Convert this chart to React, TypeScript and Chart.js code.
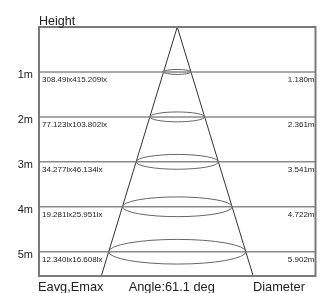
import React, { useEffect, useRef } from "react";
import { Chart, registerables } from "chart.js";

Chart.register(...registerables);

const heights = [1, 2, 3, 4, 5];
const heightLabels = ["1m", "2m", "3m", "4m", "5m"];
const eavgLabels = ["308.49", "77.123", "34.277", "19.281", "12.340"];
const emaxLabels = ["415.209", "103.802", "46.134", "25.951", "16.608"];
const diameters = [1.18, 2.361, 3.541, 4.722, 5.902];
const diameterLabels = ["1.180m", "2.361m", "3.541m", "4.722m", "5.902m"];
const beamAngle = "61.1";
const yMax = 5.54;
const xHalf = 5.95;

const FONT = "'Liberation Sans', Arial, sans-serif";

const overlay = {
  id: "overlay",
  afterDatasetsDraw(chart: any) {
    const { ctx, chartArea, scales } = chart;
    const xs = scales.x;
    const ys = scales.y;
    ctx.save();
    // ellipses
    ctx.strokeStyle = "#666";
    ctx.lineWidth = 1;
    heights.forEach((h, i) => {
      const cx = xs.getPixelForValue(0);
      const cy = ys.getPixelForValue(h);
      const rx = xs.getPixelForValue(diameters[i] / 2) - cx;
      const ry = rx * 0.18;
      ctx.beginPath();
      ctx.ellipse(cx, cy, rx, ry, 0, 0, Math.PI * 2);
      ctx.stroke();
    });
    // box
    ctx.strokeStyle = "#7a7a7a";
    ctx.lineWidth = 2;
    ctx.strokeRect(chartArea.left, chartArea.top, chartArea.right - chartArea.left, chartArea.bottom - chartArea.top);
    // texts
    ctx.fillStyle = "#222";
    ctx.textBaseline = "middle";
    heights.forEach((h, i) => {
      const y = ys.getPixelForValue(h);
      ctx.font = `11px ${FONT}`;
      ctx.textAlign = "right";
      ctx.fillText(heightLabels[i], chartArea.left - 6, y + 3);
      ctx.font = `8px ${FONT}`;
      ctx.textAlign = "left";
      ctx.fillText(`${eavgLabels[i]}lx${emaxLabels[i]}lx`, chartArea.left + 3, y + 8);
      ctx.textAlign = "right";
      ctx.fillText(diameterLabels[i], chartArea.right - 1, y + 8);
    });
    ctx.font = `12.5px ${FONT}`;
    ctx.textAlign = "left";
    ctx.textBaseline = "alphabetic";
    ctx.fillText("Height", chartArea.left, chartArea.top - 2);
    ctx.font = `12.8px ${FONT}`;
    ctx.fillText("Eavg,Emax", chartArea.left - 1, chartArea.bottom + 15);
    ctx.textAlign = "center";
    ctx.fillText(`Angle:${beamAngle} deg`, xs.getPixelForValue(0) - 5.5, chartArea.bottom + 15);
    ctx.textAlign = "left";
    ctx.fillText("Diameter", chartArea.right - 62.5, chartArea.bottom + 15);
    ctx.restore();
  },
};

export default function App() {
  const ref = useRef<HTMLCanvasElement>(null);
  useEffect(() => {
    if (!ref.current) return;
    const slope = diameters[0] / 2 / heights[0];
    const datasets: any[] = [];
    heights.forEach((h) => {
      datasets.push({
        data: [
          { x: -xHalf, y: h },
          { x: xHalf, y: h },
        ],
        borderColor: "#8a8a8a",
        borderWidth: 1.5,
      });
    });
    datasets.push({
      data: [
        { x: 0, y: 0 },
        { x: -slope * yMax, y: yMax },
      ],
      borderColor: "#333",
      borderWidth: 1,
    });
    datasets.push({
      data: [
        { x: 0, y: 0 },
        { x: slope * yMax, y: yMax },
      ],
      borderColor: "#333",
      borderWidth: 1,
    });
    const chart = new Chart(ref.current, {
      type: "line",
      data: { datasets },
      options: {
        animation: false,
        responsive: false,
        parsing: false as any,
        layout: { padding: { left: 39, right: 5.5, top: 27, bottom: 17 } },
        elements: { point: { radius: 0 } },
        plugins: { legend: { display: false }, tooltip: { enabled: false } },
        scales: {
          x: { type: "linear", min: -xHalf, max: xHalf, display: false },
          y: { type: "linear", min: 0, max: yMax, reverse: true, display: false },
        },
      },
      plugins: [overlay],
    });
    return () => chart.destroy();
  }, []);
  return (
    <div style={{ position: "fixed", left: 0, top: 0, width: 321, height: 293, background: "#fff" }}>
      <canvas ref={ref} width={321} height={293} />
    </div>
  );
}
